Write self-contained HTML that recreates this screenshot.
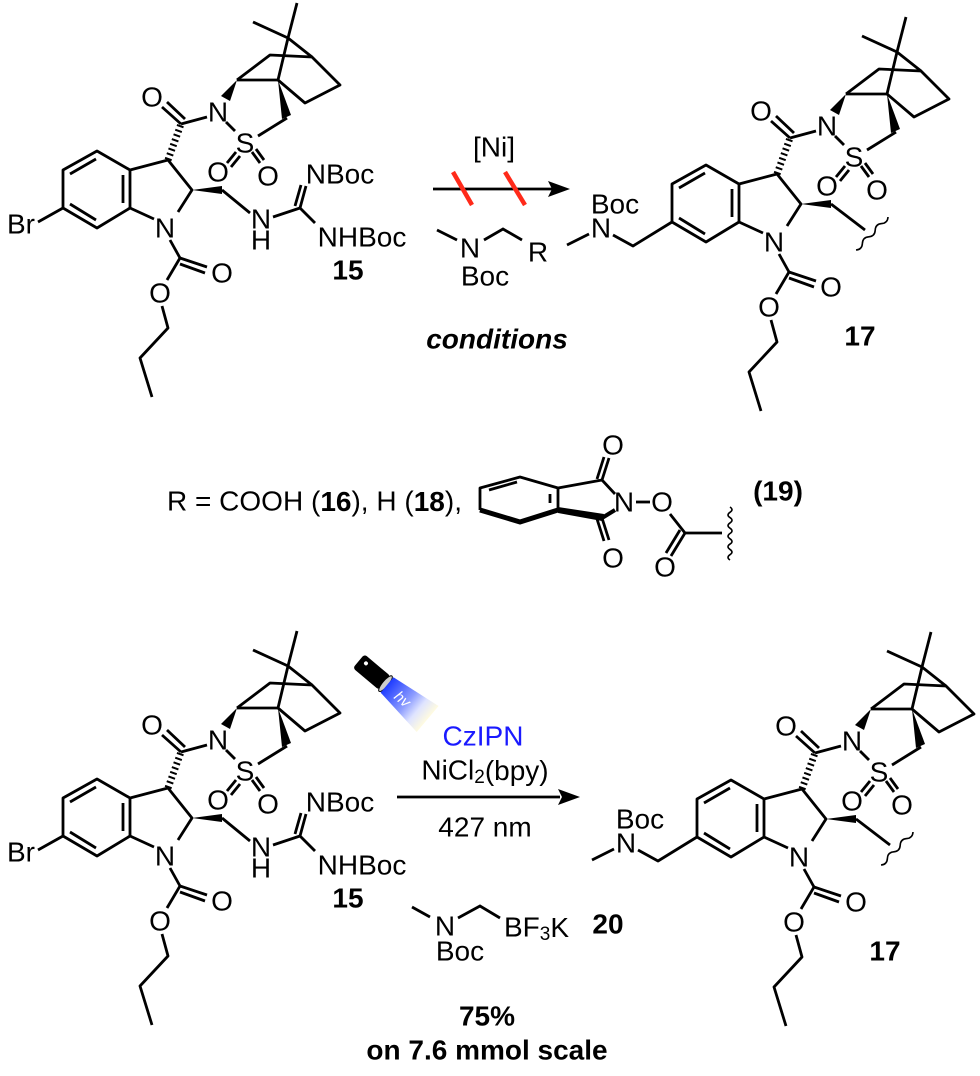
<!DOCTYPE html>
<html><head><meta charset="utf-8"><style>
html,body{margin:0;padding:0;background:#fff;}
svg{display:block;}
text{font-family:"Liberation Sans",Arial,sans-serif;font-size:28px;fill:#000;}
.b{font-weight:bold;}
</style></head><body>
<svg width="980" height="1076" viewBox="0 0 980 1076" xmlns="http://www.w3.org/2000/svg">
<defs>
<linearGradient id="beam" x1="0" y1="0" x2="1" y2="0">
<stop offset="0" stop-color="#1f3cff"/><stop offset="0.5" stop-color="#8c9cff"/><stop offset="0.75" stop-color="#dfe4ff"/><stop offset="1" stop-color="#fffbe0"/>
</linearGradient>
</defs>

<!-- ===== TOP 15 ===== -->
<g>
<g fill="none" stroke="#000" stroke-width="2.8" stroke-linejoin="round" stroke-linecap="butt">
<polygon points="97,151 130,170 130,208 97,228 63,208 63,170"/>
<line x1="123" y1="175" x2="123" y2="203"/><line x1="70" y1="174" x2="96" y2="159"/><line x1="70" y1="204" x2="96" y2="220"/>
<polyline points="130,170 168,160 192,190 178,212"/><line x1="130" y1="208" x2="154" y2="219"/>
<line x1="168" y1="160" x2="181" y2="124" stroke-width="7" stroke-dasharray="2,3"/>
<line x1="181" y1="124" x2="162" y2="107"/><line x1="185" y1="119" x2="167" y2="102"/>
<line x1="181" y1="124" x2="207" y2="117"/><line x1="226" y1="122" x2="235" y2="131"/>
<line x1="236" y1="152" x2="227" y2="163"/><line x1="240" y1="156" x2="231" y2="167"/>
<line x1="252" y1="152" x2="260" y2="163"/><line x1="256" y1="149" x2="264" y2="160"/>
<line x1="258" y1="136" x2="287" y2="118"/>
<line x1="237" y1="80" x2="278" y2="80"/><polyline points="237,80 270,55 312,57 340,85 305,103 278,80"/>
<polyline points="278,80 288,38 312,57"/><line x1="288" y1="38" x2="253" y2="22"/><line x1="288" y1="38" x2="297" y2="3"/>
<line x1="170" y1="240" x2="180" y2="258"/><line x1="180" y1="258" x2="207" y2="267"/><line x1="180" y1="264" x2="205" y2="273"/>
<line x1="180" y1="258" x2="167" y2="280"/><polyline points="162,306 168,328 140,358 152,397"/>
<line x1="63" y1="208" x2="38" y2="222"/>
<polyline points="222,190 250,213"/><line x1="273" y1="217" x2="300" y2="208"/>
<line x1="300" y1="208" x2="306" y2="186"/><line x1="295" y1="206" x2="301" y2="185"/><line x1="300" y1="208" x2="315" y2="223"/>
</g>
<g fill="#000"><polygon points="192,190 222,186 222,194"/><polygon points="237,80 221,96 230,101"/><polygon points="278,80 282,119 291,115"/></g>
<g text-anchor="middle" dominant-baseline="central">
<text x="152" y="97">O</text><text x="218" y="112">N</text><text x="245" y="143">S</text><text x="218" y="172">O</text><text x="268" y="176">O</text><text x="165" y="228">N</text><text x="222" y="273">O</text><text x="160" y="293">O</text>
<text x="21" y="224">Br</text><text x="261" y="219">N</text><text x="261" y="240">H</text>
<text x="340" y="174">NBoc</text><text x="362" y="237">NHBoc</text><text x="348" y="270" class="b">15</text>
</g>
</g>

<!-- ===== BOTTOM 15 ===== -->
<g transform="translate(0,628)">
<g fill="none" stroke="#000" stroke-width="2.8" stroke-linejoin="round">
<polygon points="97,151 130,170 130,208 97,228 63,208 63,170"/>
<line x1="123" y1="175" x2="123" y2="203"/><line x1="70" y1="174" x2="96" y2="159"/><line x1="70" y1="204" x2="96" y2="220"/>
<polyline points="130,170 168,160 192,190 178,212"/><line x1="130" y1="208" x2="154" y2="219"/>
<line x1="168" y1="160" x2="181" y2="124" stroke-width="7" stroke-dasharray="2,3"/>
<line x1="181" y1="124" x2="162" y2="107"/><line x1="185" y1="119" x2="167" y2="102"/>
<line x1="181" y1="124" x2="207" y2="117"/><line x1="226" y1="122" x2="235" y2="131"/>
<line x1="236" y1="152" x2="227" y2="163"/><line x1="240" y1="156" x2="231" y2="167"/>
<line x1="252" y1="152" x2="260" y2="163"/><line x1="256" y1="149" x2="264" y2="160"/>
<line x1="258" y1="136" x2="287" y2="118"/>
<line x1="237" y1="80" x2="278" y2="80"/><polyline points="237,80 270,55 312,57 340,85 305,103 278,80"/>
<polyline points="278,80 288,38 312,57"/><line x1="288" y1="38" x2="253" y2="22"/><line x1="288" y1="38" x2="297" y2="3"/>
<line x1="170" y1="240" x2="180" y2="258"/><line x1="180" y1="258" x2="207" y2="267"/><line x1="180" y1="264" x2="205" y2="273"/>
<line x1="180" y1="258" x2="167" y2="280"/><polyline points="162,306 168,328 140,358 152,397"/>
<line x1="63" y1="208" x2="38" y2="222"/>
<polyline points="222,190 250,213"/><line x1="273" y1="217" x2="300" y2="208"/>
<line x1="300" y1="208" x2="306" y2="186"/><line x1="295" y1="206" x2="301" y2="185"/><line x1="300" y1="208" x2="315" y2="223"/>
</g>
<g fill="#000"><polygon points="192,190 222,186 222,194"/><polygon points="237,80 221,96 230,101"/><polygon points="278,80 282,119 291,115"/></g>
<g text-anchor="middle" dominant-baseline="central">
<text x="152" y="97">O</text><text x="218" y="112">N</text><text x="245" y="143">S</text><text x="218" y="172">O</text><text x="268" y="176">O</text><text x="165" y="228">N</text><text x="222" y="273">O</text><text x="160" y="293">O</text>
<text x="21" y="224">Br</text><text x="261" y="219">N</text><text x="261" y="240">H</text>
<text x="340" y="174">NBoc</text><text x="362" y="237">NHBoc</text><text x="348" y="270" class="b">15</text>
</g>
</g>

<!-- ===== TOP 17 ===== -->
<g transform="translate(609,14)">
<g fill="none" stroke="#000" stroke-width="2.8" stroke-linejoin="round">
<polygon points="97,151 130,170 130,208 97,228 63,208 63,170"/>
<line x1="123" y1="175" x2="123" y2="203"/><line x1="70" y1="174" x2="96" y2="159"/><line x1="70" y1="204" x2="96" y2="220"/>
<polyline points="130,170 168,160 192,190 178,212"/><line x1="130" y1="208" x2="154" y2="219"/>
<line x1="168" y1="160" x2="181" y2="124" stroke-width="7" stroke-dasharray="2,3"/>
<line x1="181" y1="124" x2="162" y2="107"/><line x1="185" y1="119" x2="167" y2="102"/>
<line x1="181" y1="124" x2="207" y2="117"/><line x1="226" y1="122" x2="235" y2="131"/>
<line x1="236" y1="152" x2="227" y2="163"/><line x1="240" y1="156" x2="231" y2="167"/>
<line x1="252" y1="152" x2="260" y2="163"/><line x1="256" y1="149" x2="264" y2="160"/>
<line x1="258" y1="136" x2="287" y2="118"/>
<line x1="237" y1="80" x2="278" y2="80"/><polyline points="237,80 270,55 312,57 340,85 305,103 278,80"/>
<polyline points="278,80 288,38 312,57"/><line x1="288" y1="38" x2="253" y2="22"/><line x1="288" y1="38" x2="297" y2="3"/>
<line x1="170" y1="240" x2="180" y2="258"/><line x1="180" y1="258" x2="207" y2="267"/><line x1="180" y1="264" x2="205" y2="273"/>
<line x1="180" y1="258" x2="167" y2="280"/><polyline points="162,306 168,328 140,358 152,397"/>
<line x1="-42" y1="231" x2="-20" y2="220"/><polyline points="4,221 24,232 63,208"/>
<line x1="222" y1="190" x2="256" y2="216"/>
<path d="M247,236 q6.1,-0.5 6.4,-6.6 q0.3,-6.1 6.4,-6.6 q6.1,-0.5 6.4,-6.6 q0.3,-6.1 6.4,-6.6 q6.1,-0.5 6.4,-6.6" stroke-width="1.6"/>
</g>
<g fill="#000"><polygon points="192,190 222,186 222,194"/><polygon points="237,80 221,96 230,101"/><polygon points="278,80 282,119 291,115"/></g>
<g text-anchor="middle" dominant-baseline="central">
<text x="152" y="97">O</text><text x="218" y="112">N</text><text x="245" y="143">S</text><text x="218" y="172">O</text><text x="268" y="176">O</text><text x="165" y="228">N</text><text x="222" y="273">O</text><text x="160" y="293">O</text>
<text x="-8" y="214">N</text><text x="6" y="190">Boc</text><text x="251" y="322" class="b">17</text>
</g>
</g>

<!-- ===== BOTTOM 17 ===== -->
<g transform="translate(634,629)">
<g fill="none" stroke="#000" stroke-width="2.8" stroke-linejoin="round">
<polygon points="97,151 130,170 130,208 97,228 63,208 63,170"/>
<line x1="123" y1="175" x2="123" y2="203"/><line x1="70" y1="174" x2="96" y2="159"/><line x1="70" y1="204" x2="96" y2="220"/>
<polyline points="130,170 168,160 192,190 178,212"/><line x1="130" y1="208" x2="154" y2="219"/>
<line x1="168" y1="160" x2="181" y2="124" stroke-width="7" stroke-dasharray="2,3"/>
<line x1="181" y1="124" x2="162" y2="107"/><line x1="185" y1="119" x2="167" y2="102"/>
<line x1="181" y1="124" x2="207" y2="117"/><line x1="226" y1="122" x2="235" y2="131"/>
<line x1="236" y1="152" x2="227" y2="163"/><line x1="240" y1="156" x2="231" y2="167"/>
<line x1="252" y1="152" x2="260" y2="163"/><line x1="256" y1="149" x2="264" y2="160"/>
<line x1="258" y1="136" x2="287" y2="118"/>
<line x1="237" y1="80" x2="278" y2="80"/><polyline points="237,80 270,55 312,57 340,85 305,103 278,80"/>
<polyline points="278,80 288,38 312,57"/><line x1="288" y1="38" x2="253" y2="22"/><line x1="288" y1="38" x2="297" y2="3"/>
<line x1="170" y1="240" x2="180" y2="258"/><line x1="180" y1="258" x2="207" y2="267"/><line x1="180" y1="264" x2="205" y2="273"/>
<line x1="180" y1="258" x2="167" y2="280"/><polyline points="162,306 168,328 140,358 152,397"/>
<line x1="-42" y1="231" x2="-20" y2="220"/><polyline points="4,221 24,232 63,208"/>
<line x1="222" y1="190" x2="256" y2="216"/>
<path d="M247,236 q6.1,-0.5 6.4,-6.6 q0.3,-6.1 6.4,-6.6 q6.1,-0.5 6.4,-6.6 q0.3,-6.1 6.4,-6.6 q6.1,-0.5 6.4,-6.6" stroke-width="1.6"/>
</g>
<g fill="#000"><polygon points="192,190 222,186 222,194"/><polygon points="237,80 221,96 230,101"/><polygon points="278,80 282,119 291,115"/></g>
<g text-anchor="middle" dominant-baseline="central">
<text x="152" y="97">O</text><text x="218" y="112">N</text><text x="245" y="143">S</text><text x="218" y="172">O</text><text x="268" y="176">O</text><text x="165" y="228">N</text><text x="222" y="273">O</text><text x="160" y="293">O</text>
<text x="-8" y="214">N</text><text x="6" y="190">Boc</text><text x="251" y="322" class="b">17</text>
</g>
</g>

<!-- ===== TOP ARROW & REAGENTS ===== -->
<g stroke="#000" stroke-width="2.8" fill="none">
<line x1="433" y1="189" x2="552" y2="189"/>
<line x1="437" y1="230" x2="457" y2="240"/><polyline points="484,240 503,229 522,240"/>
</g>
<polygon points="570,189 548,181 552,189 548,197" fill="#000"/>
<g stroke="#ff2a1a" stroke-width="4.5"><line x1="453" y1="172" x2="472" y2="205"/><line x1="505" y1="172" x2="525" y2="205"/></g>
<g text-anchor="middle" dominant-baseline="central">
<text x="494" y="147">[Ni]</text>
<text x="470" y="248">N</text><text x="485" y="276">Boc</text><text x="538" y="252">R</text>
<text x="497" y="339" class="b" font-style="italic">conditions</text>
</g>

<!-- ===== MIDDLE ROW ===== -->
<text x="167" y="501" dominant-baseline="central" textLength="295">R = COOH (<tspan class="b">16</tspan>), H (<tspan class="b">18</tspan>),</text>
<g stroke="#000" stroke-width="2.8" fill="none" stroke-linejoin="round">
<polyline points="480,510 480,488 520,477 558,488 558,510"/>
<line x1="489" y1="490" x2="517" y2="482"/><line x1="550" y1="494" x2="550" y2="503"/>
<polyline points="558,488 602,480 615,494"/>
<line x1="602" y1="480" x2="609" y2="458"/><line x1="597" y1="479" x2="604" y2="457"/>
<line x1="602" y1="518" x2="609" y2="540"/><line x1="597" y1="519" x2="604" y2="541"/>
<line x1="636" y1="502" x2="650" y2="502"/>
<polyline points="670,514 685,533 722,533"/>
<line x1="685" y1="533" x2="671" y2="556"/><line x1="680" y1="530" x2="666" y2="553"/>
<path d="M730,507 q4,2.65 0,5.3 q-4,2.65 0,5.3 q4,2.65 0,5.3 q-4,2.65 0,5.3 q4,2.65 0,5.3 q-4,2.65 0,5.3 q4,2.65 0,5.3 q-4,2.65 0,5.3 q4,2.65 0,5.3 q-4,2.65 0,5.3" stroke-width="1.6"/>
</g>
<polyline points="480,510 520,522 558,510" stroke="#000" stroke-width="5" fill="none" stroke-linejoin="round"/>
<polygon points="558,507 558,513 602,521 604,514" fill="#000"/>
<line x1="602" y1="518" x2="615" y2="510" stroke="#000" stroke-width="4"/>
<g text-anchor="middle" dominant-baseline="central">
<text x="613" y="445">O</text><text x="624" y="502">N</text><text x="662" y="502">O</text><text x="613" y="558">O</text><text x="665" y="567">O</text>
<text x="778" y="491" class="b">(19)</text>
</g>

<!-- ===== BOTTOM ARROW & REAGENTS ===== -->
<g transform="translate(374,674) rotate(40)">
<rect x="-20" y="-9" width="34" height="18" rx="3" fill="#000"/>
<circle cx="-13" cy="-3" r="2" fill="#fff"/>
<ellipse cx="15" cy="0" rx="3" ry="10" fill="#ccc" stroke="#000" stroke-width="1"/>
<polygon points="17,-10 70,-17 70,17 17,10" fill="url(#beam)"/>
<text x="30" y="6" font-style="italic" style="fill:#fff;font-size:15px">hv</text>
</g>
<g stroke="#000" stroke-width="2.8" fill="none">
<line x1="397" y1="797" x2="560" y2="797"/>
<line x1="412" y1="907" x2="430" y2="917"/><polyline points="458,918 480,906 500,918"/>
</g>
<polygon points="580,797 558,789 562,797 558,805" fill="#000"/>
<g text-anchor="middle" dominant-baseline="central">
<text x="483" y="736" style="fill:#1a1aff">CzIPN</text>
<text x="485" y="770">NiCl<tspan font-size="19" dy="7">2</tspan><tspan dy="-7">(bpy)</tspan></text>
<text x="485" y="827">427 nm</text>
<text x="445" y="926">N</text><text x="460" y="951">Boc</text>
<text x="608" y="924" class="b">20</text>
<text x="487" y="1016" class="b">75%</text>
<text x="487" y="1050" class="b">on 7.6 mmol scale</text>
</g>
<text x="504" y="927" dominant-baseline="central">BF<tspan font-size="19" dy="7">3</tspan><tspan dy="-7">K</tspan></text>
</svg>
</body></html>
